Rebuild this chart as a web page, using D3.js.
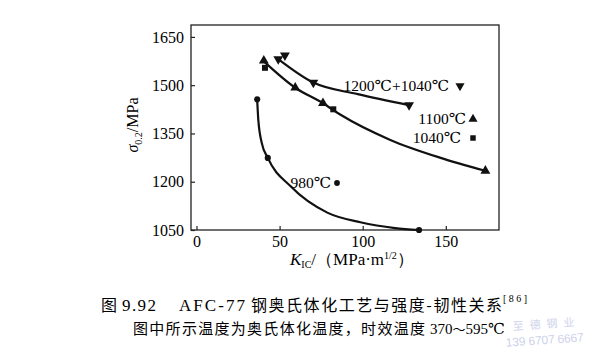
<!DOCTYPE html>
<html>
<head>
<meta charset="utf-8">
<script src="https://cdn.jsdelivr.net/npm/d3@7"></script>
<style>
  body { margin: 0; background: #fff; }
  svg text { font-family: "Liberation Serif", "Times New Roman", "DejaVu Serif", serif; fill: #000; }
  svg text.cjk { font-family: "Noto Sans CJK SC", sans-serif; }
</style>
</head>
<body>
<div id="chart"></div>
<script>
// markers: [K_IC, sigma_0.2]
var pts980 = [[36.5, 1456], [42.9, 1274], [133.9, 1050]];
var pts1040 = [[41.2, 1554], [82.3, 1425]];
var pts1100 = [[40.5, 1576], [59.4, 1492], [76.1, 1444], [173.8, 1234]];
var pts1200 = [[49.2, 1581], [53.2, 1593], [70.3, 1508], [127.9, 1438]];

// the drawn curves
var curve980 = [[36.5, 1456], [37.2, 1392], [39.3, 1320], [42.9, 1274], [56.8, 1185], [78.7, 1104], [98.6, 1074], [119.5, 1056], [133.9, 1050]];
var curve1100 = [[40.5, 1574], [59.4, 1492], [76.1, 1444], [86.7, 1408], [116.6, 1330], [146.4, 1275], [173.8, 1234]];
var curve1200 = [[49.2, 1581], [70.3, 1508], [97, 1472], [127.9, 1438]];

var xTicks = [0, 50, 100, 150];
var yTicks = [1050, 1200, 1350, 1500, 1650];

var W = 600, H = 352;
var svg = d3.select("#chart").append("svg").attr("width", W).attr("height", H);

var xScale = d3.scaleLinear().domain([-3.3, 182]).range([191, 499]);
var yScale = d3.scaleLinear().domain([1050, 1687]).range([230, 25]);

// frame
svg.append("rect")
  .attr("x", 191).attr("y", 25)
  .attr("width", 499 - 191).attr("height", 230 - 25)
  .attr("fill", "none").attr("stroke", "#222").attr("stroke-width", 1.3);

// axes, ticks pointing inward
var xAxis = svg.append("g").attr("transform", "translate(0,230)")
  .call(d3.axisBottom(xScale).tickValues(xTicks).tickFormat(d3.format("d")).tickSize(-4).tickPadding(6));
var yAxis = svg.append("g").attr("transform", "translate(191,0)")
  .call(d3.axisLeft(yScale).tickValues(yTicks).tickFormat(d3.format("d")).tickSize(-4).tickPadding(6));
[xAxis, yAxis].forEach(function (g) {
  g.attr("font-family", null);
  g.select(".domain").remove();
  g.selectAll("line").attr("stroke", "#222").attr("stroke-width", 1.2);
  g.selectAll("text").attr("font-size", 16);
});
yAxis.selectAll("text").attr("dx", "-1");

// curves
var line = d3.line()
  .x(function (d) { return xScale(d[0]); })
  .y(function (d) { return yScale(d[1]); })
  .curve(d3.curveMonotoneX);

[curve980, curve1100, curve1200].forEach(function (c) {
  svg.append("path").attr("d", line(c))
    .attr("fill", "none").attr("stroke", "#111").attr("stroke-width", 2.2);
});

// markers
function drawMarkers(data, type, size, rot) {
  svg.append("g").selectAll("path").data(data).enter().append("path")
    .attr("d", d3.symbol().type(type).size(size))
    .attr("transform", function (d) {
      return "translate(" + xScale(d[0]) + "," + yScale(d[1]) + ")" + (rot ? " rotate(" + rot + ")" : "");
    })
    .attr("fill", "#111");
}
drawMarkers(pts980, d3.symbolCircle, 30);
drawMarkers(pts1040, d3.symbolSquare, 36);
drawMarkers(pts1100, d3.symbolTriangle, 42);
drawMarkers(pts1200, d3.symbolTriangle, 42, 180);

// in-plot legend labels
function legend(label, tx, ty, type, mx, size, rot) {
  svg.append("text").attr("x", tx).attr("y", ty).attr("text-anchor", "end")
    .attr("font-size", 15.5).text(label);
  svg.append("path")
    .attr("d", d3.symbol().type(type).size(size))
    .attr("transform", "translate(" + mx + "," + (ty - 5) + ")" + (rot ? " rotate(" + rot + ")" : ""))
    .attr("fill", "#111");
}
legend("1200℃+1040℃", 449, 91, d3.symbolTriangle, 460, 36, 180);
legend("1100℃", 466, 124, d3.symbolTriangle, 473, 36);
legend("1040℃", 461, 143, d3.symbolSquare, 473, 30);
legend("980℃", 331, 188, d3.symbolCircle, 337, 26);

// axis titles
var yt = svg.append("text").attr("transform", "translate(138,125) rotate(-90)")
  .attr("text-anchor", "middle").attr("font-size", 16);
yt.append("tspan").attr("font-style", "italic").text("σ");
yt.append("tspan").attr("font-size", 10).attr("dy", 4).text("0.2");
yt.append("tspan").attr("dy", -4).text("/MPa");

var xt = svg.append("text").attr("x", 290).attr("y", 265).attr("font-size", 17);
xt.append("tspan").attr("font-style", "italic").text("K");
xt.append("tspan").attr("font-size", 10).attr("dy", 3).text("IC");
xt.append("tspan").attr("dy", -3).text("/（MPa·m");
xt.append("tspan").attr("font-size", 10).attr("dy", -6).text("1/2");
xt.append("tspan").attr("dy", 6).text("）");

// caption
svg.append("text").attr("class", "cjk").attr("x", 101).attr("y", 311).attr("font-size", 16).text("图");
svg.append("text").attr("x", 122).attr("y", 311).attr("font-size", 17)
  .attr("textLength", 34).attr("lengthAdjust", "spacing").text("9.92");
svg.append("text").attr("x", 179).attr("y", 311).attr("font-size", 17)
  .attr("textLength", 66).attr("lengthAdjust", "spacing").text("AFC-77");
svg.append("text").attr("class", "cjk").attr("x", 251).attr("y", 311).attr("font-size", 16)
  .attr("textLength", 251).attr("lengthAdjust", "spacing").text("钢奥氏体化工艺与强度-韧性关系");
svg.append("text").attr("x", 503).attr("y", 302).attr("font-size", 10)
  .attr("textLength", 24).attr("lengthAdjust", "spacing").text("[86]");

svg.append("text").attr("class", "cjk").attr("x", 133).attr("y", 334).attr("font-size", 15)
  .attr("textLength", 292).attr("lengthAdjust", "spacing").text("图中所示温度为奥氏体化温度，时效温度");
var tt = svg.append("text").attr("x", 430).attr("y", 334).attr("font-size", 15);
tt.append("tspan").text("370");
tt.append("tspan").attr("class", "cjk").style("font-family", "Noto Sans CJK SC").attr("font-size", 13).text("～");
tt.append("tspan").text("595℃");

// faint watermark
var wm = svg.append("g").attr("transform", "rotate(-4,545,330)").attr("opacity", 0.5);
wm.append("text").attr("class", "cjk").attr("x", 513).attr("y", 328).attr("font-size", 11)
  .attr("textLength", 62).attr("lengthAdjust", "spacing").style("fill", "#9aa6d8").text("至德钢业");
wm.append("text").attr("x", 505).attr("y", 344).attr("font-size", 12).style("font-family", "Liberation Sans")
  .attr("textLength", 78).attr("lengthAdjust", "spacing").style("fill", "#9aa6d8").text("139 6707 6667");
</script>
</body>
</html>
